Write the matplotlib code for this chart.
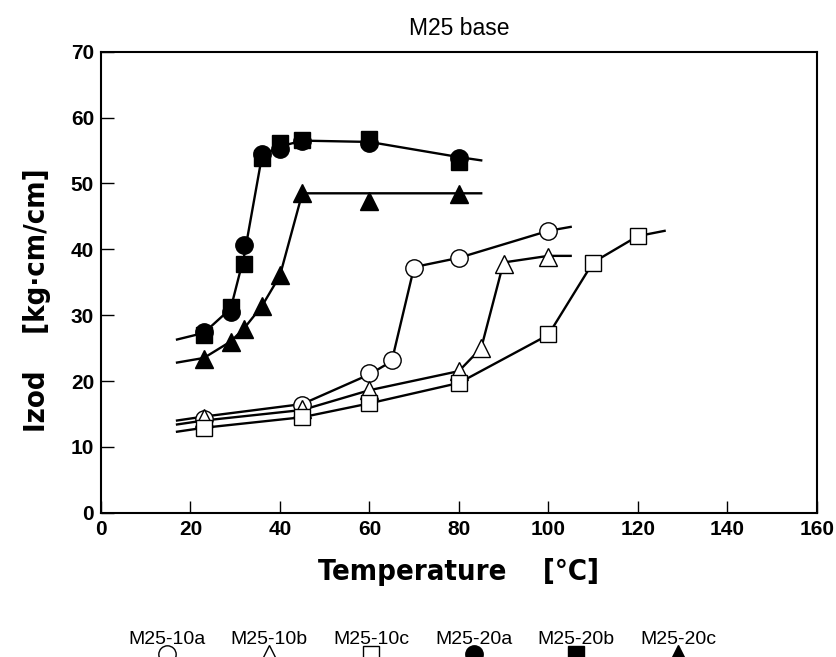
import numpy as np
import matplotlib
matplotlib.use('Agg')
from matplotlib import pyplot as plt

# series labels (legend order)
labels = ['M25-10a', 'M25-10b', 'M25-10c', 'M25-20a', 'M25-20b', 'M25-20c']
markers = ['o', '^', 's', 'o', 's', '^']
filled = [False, False, False, True, True, True]

# measured points
x_10a = [23, 45, 60, 65, 70, 80, 100]
y_10a = [14.3, 16.4, 21.2, 23.2, 37.2, 38.7, 42.8]
x_10b = [23, 45, 60, 80, 85, 90, 100]
y_10b = [14.4, 15.8, 18.6, 21.5, 25.0, 37.8, 38.9]
x_10c = [23, 45, 60, 80, 100, 110, 120]
y_10c = [12.8, 14.5, 16.7, 19.7, 27.1, 37.9, 42.0]
x_20a = [23, 29, 32, 36, 40, 45, 60, 80]
y_20a = [27.5, 30.5, 40.7, 54.4, 55.2, 56.4, 56.2, 53.9]
x_20b = [23, 29, 32, 36, 40, 45, 60, 80]
y_20b = [27.0, 31.3, 37.8, 53.9, 56.2, 56.6, 56.8, 53.3]
x_20c = [23, 29, 32, 36, 40, 45, 60, 80]
y_20c = [23.4, 25.9, 27.9, 31.4, 36.1, 48.6, 47.3, 48.4]

# hand drawn trend curves
cx_10a = [17, 23, 45, 60, 65, 70, 80, 100, 105]
cy_10a = [14.0, 14.6, 16.5, 21.0, 23.0, 37.3, 38.7, 42.8, 43.4]
cx_10b = [17, 23, 45, 60, 80, 85, 90, 100, 105]
cy_10b = [13.4, 14.0, 15.6, 18.6, 21.5, 25.0, 38.0, 39.0, 39.0]
cx_10c = [17, 23, 45, 60, 80, 100, 110, 120, 126]
cy_10c = [12.3, 12.9, 14.5, 16.6, 19.7, 27.0, 38.0, 42.0, 42.8]
cx_20ab = [17, 23, 29, 32, 36, 40, 45, 60, 80, 85]
cy_20ab = [26.3, 27.3, 31.0, 39.0, 54.2, 55.6, 56.5, 56.3, 54.0, 53.5]
cx_20c = [17, 23, 29, 32, 36, 40, 45, 60, 80, 85]
cy_20c = [22.8, 23.5, 26.0, 28.0, 31.4, 36.0, 48.5, 48.5, 48.5, 48.5]

points = [(x_10a, y_10a), (x_10b, y_10b), (x_10c, y_10c),
          (x_20a, y_20a), (x_20b, y_20b), (x_20c, y_20c)]
curves = [(cx_10a, cy_10a), (cx_10b, cy_10b), (cx_10c, cy_10c),
          (cx_20ab, cy_20ab), (cx_20c, cy_20c)]

plt.rcParams['font.family'] = ['Liberation Sans', 'DejaVu Sans']

fig = plt.figure(figsize=(8.36, 6.57), dpi=100)
ax = fig.add_axes([0.1208, 0.2196, 0.8561, 0.7017])

for cx, cy in curves:
    ax.plot(cx, cy, color='black', lw=1.7, zorder=2)

ms = 12.5
def msize(m):
    return ms - 1.5 if m == 's' else ms

for (px, py), m, f in zip(points, markers, filled):
    ax.plot(px, py, ls='none', marker=m, ms=msize(m),
            mfc='black' if f else 'white', mec='black', mew=1.0, zorder=3)

ax.set_xlim(0, 160)
ax.set_ylim(0, 70)
ax.set_xticks(np.arange(0, 161, 20))
ax.set_yticks(np.arange(0, 71, 10))
ax.tick_params(direction='in', length=9, width=1.0, labelsize=15, pad=5)
for t in ax.get_xticklabels() + ax.get_yticklabels():
    t.set_fontweight('bold')
for s in ax.spines.values():
    s.set_linewidth(1.5)

ax.set_title('M25 base', fontsize=16.5, pad=12)
lab_font = dict(family='DejaVu Sans', fontstretch='condensed', fontweight='bold', fontsize=21)
ax.set_xlabel('Temperature    [°C]', labelpad=14, **lab_font)
ax.set_ylabel('Izod    [kg·cm/cm]', **lab_font)
ax.yaxis.set_label_coords(-0.07, 0.46)

# legend: labels above their symbols
lax = fig.add_axes([0.1386, 0.0, 0.7336, 0.05])
lax.set_xlim(-0.5, 5.5)
lax.set_ylim(0, 1)
lax.axis('off')
for i, (lab, m, f) in enumerate(zip(labels, markers, filled)):
    lax.text(i, 0.28, lab, ha='center', va='bottom', fontsize=14)
    lax.plot([i], [0.1], ls='none', marker=m, ms=msize(m),
             mfc='black' if f else 'white', mec='black', mew=1.0, clip_on=False)

fig.savefig('out.png', dpi=100)
